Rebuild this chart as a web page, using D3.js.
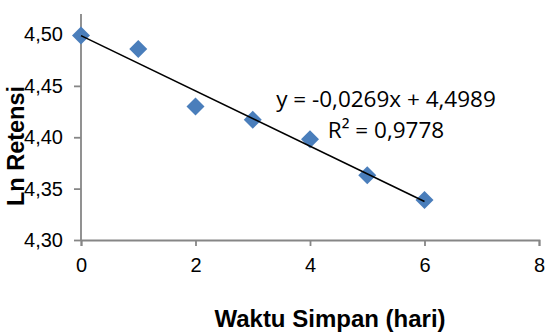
<!DOCTYPE html>
<html>
<head>
<meta charset="utf-8">
<script src="https://cdn.jsdelivr.net/npm/d3@7"></script>
<style>
  html, body { margin: 0; padding: 0; background: #fff; }
  svg { display: block; }
</style>
</head>
<body>
<div id="chart"></div>
<script>
// Data
const waktu = [0, 1, 2, 3, 4, 5, 6];
const lnRetensi = [4.499, 4.486, 4.430, 4.417, 4.398, 4.363, 4.339];
const xTicks = [0, 2, 4, 6, 8];
const yTicks = [4.30, 4.35, 4.40, 4.45, 4.50];
const trendSlope = -0.0269;
const trendIntercept = 4.4989;
const equationLines = ['y = -0,0269x + 4,4989', 'R² = 0,9778'];

const width = 545, height = 333;
const axisColor = '#868686';
const markerColor = '#4a7ebb';

// Create the SVG element
const svg = d3.select('#chart')
    .append('svg')
    .attr('width', width)
    .attr('height', height);

// Scales
const x = d3.scaleLinear().domain([0, 8]).range([81, 539]);
const y = d3.scaleLinear().domain([4.30, 4.50]).range([240, 34.5]);
const yTop = y(4.52);

const fmt = d => d3.format('.2f')(d).replace('.', ',');

// Y axis
const yAxis = svg.append('g')
    .attr('transform', `translate(${x(0)},0)`)
    .call(d3.axisLeft(y).tickValues(yTicks).tickSize(7).tickPadding(11).tickFormat(fmt));
yAxis.select('.domain').attr('d', `M0,${yTop}V${y(4.30)}`);

// X axis
svg.append('g')
    .attr('transform', `translate(0,${y(4.30)})`)
    .call(d3.axisBottom(x).tickValues(xTicks).tickSize(6).tickPadding(12).tickFormat(d3.format('d')));

svg.selectAll('.domain, .tick line')
    .attr('stroke', axisColor)
    .attr('stroke-width', 1.8);
svg.selectAll('.tick text')
    .attr('fill', '#000')
    .style('font-family', '"Liberation Sans", Arial, sans-serif')
    .style('font-size', '20px');

// Data markers (diamonds)
const diamond = d3.symbol().type(d3.symbolSquare).size(162);
svg.append('g')
    .selectAll('path')
    .data(waktu.map((w, i) => ({ w, v: lnRetensi[i] })))
    .enter()
    .append('path')
    .attr('d', diamond)
    .attr('transform', d => `translate(${x(d.w)},${y(d.v)}) rotate(45)`)
    .attr('fill', markerColor);

// Linear trendline
const trendX = d3.extent(waktu);
svg.append('line')
    .attr('x1', x(trendX[0]))
    .attr('y1', y(trendIntercept + trendSlope * trendX[0]))
    .attr('x2', x(trendX[1]))
    .attr('y2', y(trendIntercept + trendSlope * trendX[1]))
    .attr('stroke', '#000')
    .attr('stroke-width', 1.6);

// Trendline equation
svg.append('g')
    .selectAll('text')
    .data(equationLines)
    .enter()
    .append('text')
    .attr('x', 386)
    .attr('y', (d, i) => 107 + i * 31)
    .attr('text-anchor', 'middle')
    .style('font-family', '"Open Sans", sans-serif')
    .style('font-size', '22.5px')
    .attr('fill', '#000')
    .text(d => d);

// X axis label
svg.append('text')
    .attr('x', 330)
    .attr('y', 327)
    .attr('text-anchor', 'middle')
    .style('font-family', '"Liberation Sans", Arial, sans-serif')
    .style('font-size', '24px')
    .style('font-weight', 'bold')
    .text('Waktu Simpan (hari)');

// Y axis label
svg.append('text')
    .attr('transform', 'rotate(-90)')
    .attr('x', -146)
    .attr('y', 24)
    .attr('text-anchor', 'middle')
    .style('font-family', '"Liberation Sans", Arial, sans-serif')
    .style('font-size', '23.5px')
    .style('font-weight', 'bold')
    .text('Ln Retensi');
</script>
</body>
</html>
